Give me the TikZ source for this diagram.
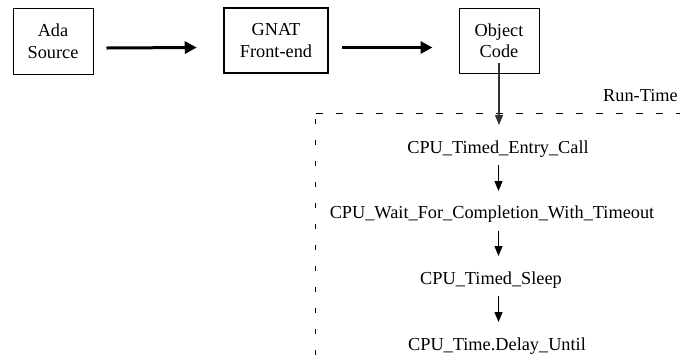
\documentclass[tikz,border=0pt]{standalone}
\usepackage{fontspec}
\newfontfamily\tms{Liberation Serif}
\usetikzlibrary{arrows.meta}
\begin{document}
\begin{tikzpicture}[x=1pt,y=-1pt,
  every node/.style={font=\tms\fontsize{18.3}{21.5}\selectfont},
  box/.style={draw=black,line width=1pt,align=center,inner sep=0pt,minimum width=80pt,minimum height=66pt},
  thickbox/.style={box,line width=2.5pt,minimum width=104pt,minimum height=65pt},
  lbl/.style={anchor=base,inner sep=0pt},
  bigarrow/.style={line width=3pt,-{Triangle[length=12pt,width=12pt]}},
  smallarrow/.style={line width=1.2pt,-{Triangle[length=10pt,width=8pt]}},
  dashline/.style={line width=1pt,dash pattern=on 7pt off 13pt},
  vdashline/.style={line width=1.5pt,dash pattern=on 5pt off 16pt}]
\useasboundingbox (0,0) rectangle (680,360);
% boxes
\node[box] (ada) at (53,41) {Ada\\Source};
\node[thickbox] (gnat) at (276,40.5) {GNAT\\Front-end};
\node[box,minimum height=65pt] (obj) at (499,40.5) {Object\\Code};
% big arrows
\draw[bigarrow] ([shift={(13,7)}]ada.east) -- ([shift={(-26,7)}]gnat.west);
\draw[bigarrow] ([shift={(13,7)}]gnat.east) -- ([shift={(-26,7)}]obj.west);
% run-time region
\coordinate (rtc) at (315.5,113);
\coordinate (rte) at (680,113);
\coordinate (rtb) at (315.5,360);
\draw[dashline] (rtc) -- (rte);
\draw[vdashline] ([shift={(0,6)}]rtc) -- (rtb);
\node[lbl,anchor=base east] (rt) at (678,101) {Run-Time};
% call chain
\node[lbl] (t1) at (498,153) {CPU\_Timed\_Entry\_Call};
\node[lbl] (t2) at (492,218.5) {CPU\_Wait\_For\_Completion\_With\_Timeout};
\node[lbl] (t3) at (491,284.5) {CPU\_Timed\_Sleep};
\node[lbl] (t4) at (497,350) {CPU\_Time.Delay\_Until};
\draw[smallarrow,draw=black!80,fill=black!80] ([shift={(0,22.5)}]obj.center) -- (obj.center |- 0,125);
\draw[smallarrow] (498.5,165) -- (498.5,191);
\draw[smallarrow] (498.5,231) -- (498.5,256);
\draw[smallarrow] (498.5,296) -- (498.5,322);
\end{tikzpicture}
\end{document}
